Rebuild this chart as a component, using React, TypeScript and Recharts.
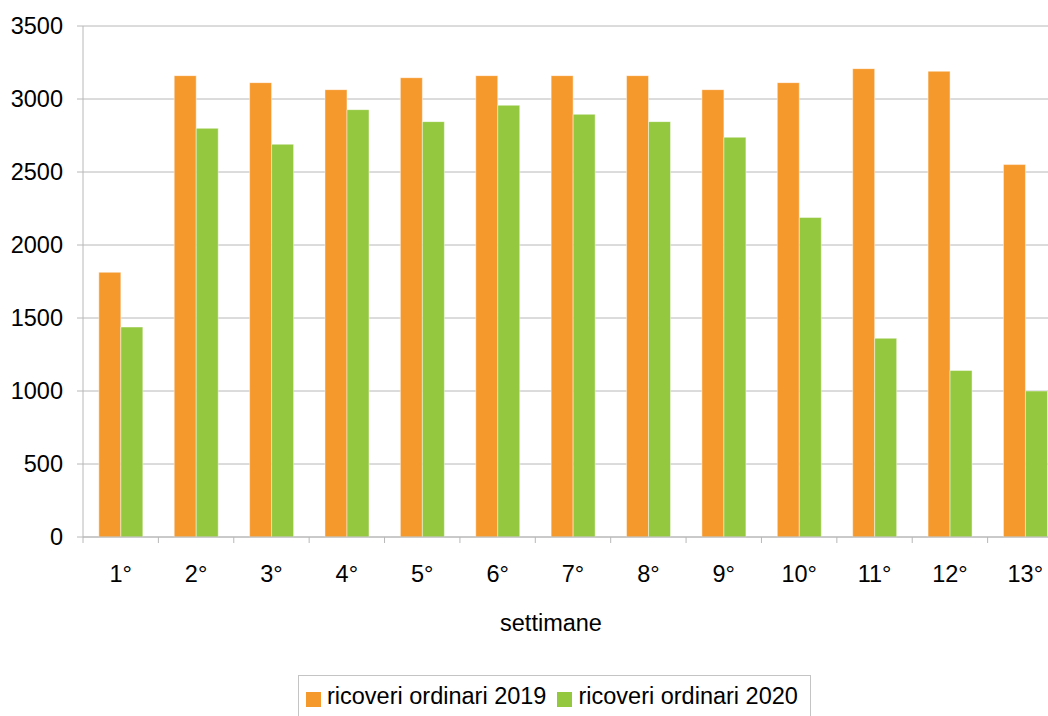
import { BarChart, Bar, XAxis, YAxis, CartesianGrid, Legend } from "recharts";

const weeks = ["1°", "2°", "3°", "4°", "5°", "6°", "7°", "8°", "9°", "10°", "11°", "12°", "13°"];
const ricoveri2019 = [1813, 3160, 3112, 3064, 3146, 3160, 3160, 3160, 3064, 3112, 3208, 3190, 2551];
const ricoveri2020 = [1438, 2799, 2690, 2927, 2845, 2957, 2895, 2845, 2738, 2188, 1361, 1140, 1000];
const yTicks = [0, 500, 1000, 1500, 2000, 2500, 3000, 3500];

const ORANGE = "#f6992d";
const GREEN = "#94c83e";
const GRID = "#b8b8b8";
const FONT = "'Liberation Sans', Arial, sans-serif";
const FS = 23.5;

const CHART_W = 1070;
const CHART_H = 716;
const MARGIN = { top: 26, right: 7, left: 0, bottom: 79 };
const Y_W = 83;
const BAND = (CHART_W - MARGIN.right - MARGIN.left - Y_W) / weeks.length;

const data = weeks.map((w, i) => ({
  week: w,
  r2019: ricoveri2019[i],
  r2020: ricoveri2020[i],
}));

function WeekTick(props: any) {
  const { x, y, payload } = props;
  const bx = x - BAND / 2;
  return (
    <g>
      <line x1={bx} y1={y - 28} x2={bx} y2={y - 22} stroke={GRID} />
      <text x={x} y={y} dy="0.71em" textAnchor="middle" fontSize={FS} fontFamily={FONT} fill="#000">
        {payload.value}
      </text>
    </g>
  );
}

function LegendBox(props: any) {
  const { payload } = props;
  return (
    <div
      style={{
        display: "flex",
        alignItems: "flex-start",
        border: "1px solid #c4c4c4",
        background: "#fff",
        padding: "7px 12px 20px 7px",
        fontFamily: FONT,
        fontSize: FS,
        lineHeight: "26px",
        color: "#000",
        whiteSpace: "nowrap",
      }}
    >
      {(payload || []).map((item: any, i: number) => (
        <span key={i} style={{ display: "flex", alignItems: "flex-start", marginRight: i === 0 ? 11 : 0 }}>
          <span
            style={{
              display: "inline-block",
              width: 15,
              height: 15,
              marginTop: 9,
              marginRight: 6,
              background: item.color,
            }}
          />
          <span>{item.value}</span>
        </span>
      ))}
    </div>
  );
}

export default function App() {
  return (
    <div style={{ position: "absolute", left: 0, top: 0, width: 1048, height: 716, overflow: "hidden", background: "#fff" }}>
      <BarChart
        width={CHART_W}
        height={CHART_H}
        data={data}
        margin={MARGIN}
        barCategoryGap="21%"
        barGap={0}
      >
        <CartesianGrid vertical={false} stroke={GRID} />
        <XAxis
          dataKey="week"
          height={100}
          tickLine={false}
          tickSize={6}
          tickMargin={22}
          axisLine={{ stroke: GRID }}
          tick={<WeekTick />}
          interval={0}
          label={{
            value: "settimane",
            position: "insideBottom",
            offset: 6,
            dx: -22,
            fontSize: FS,
            fontFamily: FONT,
            fill: "#000",
          }}
        />
        <YAxis
          width={Y_W}
          domain={[0, 3500]}
          ticks={yTicks}
          interval={0}
          tickSize={6}
          tickMargin={14}
          tickLine={{ stroke: GRID }}
          axisLine={{ stroke: GRID }}
          tick={{ fontSize: FS, fontFamily: FONT, fill: "#000" }}
        />
        <Legend
          layout="horizontal"
          verticalAlign="middle"
          align="center"
          content={<LegendBox />}
          wrapperStyle={{ position: "absolute", left: 298, top: 675, width: "auto", height: "auto" }}
        />
        <Bar
          dataKey="r2019"
          name="ricoveri ordinari 2019"
          fill={ORANGE}
          stroke="rgba(255,255,255,0.45)"
          strokeWidth={1}
          isAnimationActive={false}
        />
        <Bar
          dataKey="r2020"
          name="ricoveri ordinari 2020"
          fill={GREEN}
          stroke="rgba(255,255,255,0.45)"
          strokeWidth={1}
          isAnimationActive={false}
        />
      </BarChart>
    </div>
  );
}
